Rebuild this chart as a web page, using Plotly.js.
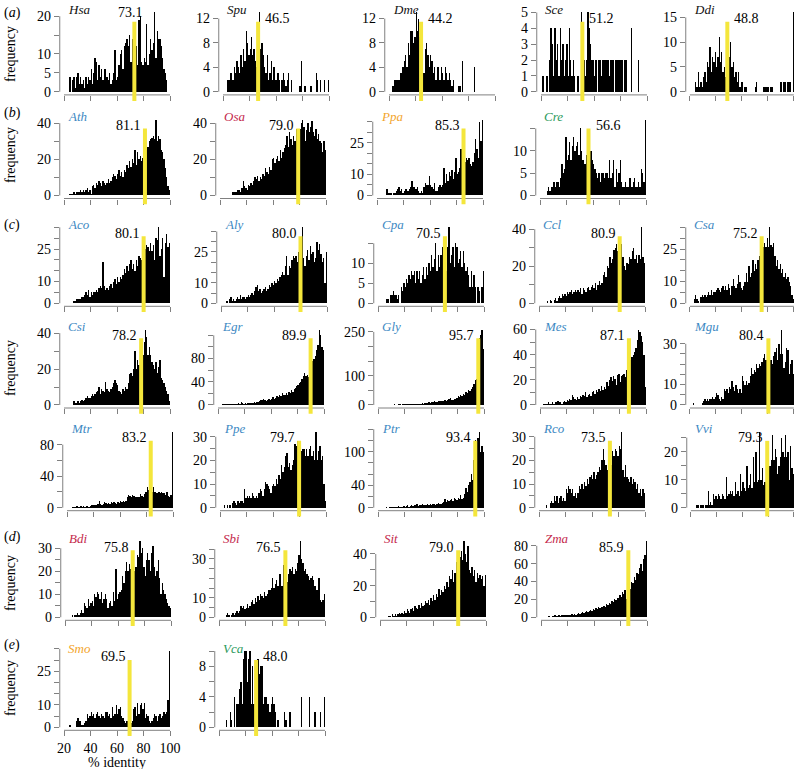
<!DOCTYPE html>
<html>
<head>
<meta charset="utf-8">
<script src="https://cdn.plot.ly/plotly-3.0.1.min.js"></script>
<style>body{margin:0;background:#fff}#chart{width:798px;height:769px}</style>
</head>
<body>
<div id="chart"></div>
<script>
// counts per 1% identity bin: 20-21, 21-22 ... 99-100 (ten bins per group)
var hsa = [0,0,0,0,4,0,3,4,1,4, 5,2,4,2,3,1,4,2,4,3, 6,2,5,9,8,3,7,4,6,3, 6,6,4,3,5,2,3,5,11,3,
           4,7,10,11,6,12,13,14,12,15, 8,14,10,9,12,7,19,20,8,7, 9,8,18,7,10,14,11,13,21,9, 16,14,14,12,9,6,5,3,0,0];
var spu = [0,0,0,2,2,3,3,2,4,3, 5,4,3,6,4,7,5,10,8,6, 7,9,6,7,5,4,3,13,7,8, 6,4,3,6,2,3,5,2,4,2,
           2,3,2,0,2,3,2,1,2,3, 0,2,0,0,0,0,0,1,1,5, 0,1,1,0,0,0,1,0,0,0, 3,2,0,2,0,0,2,0,0,2];
var dme = [0,0,1,1,2,2,2,2,3,3, 4,5,6,4,8,6,10,10,8,9, 13,10,12,9,10,6,3,7,8,6, 4,6,5,3,4,2,4,4,2,4,
           3,2,4,3,2,3,2,1,2,0, 0,0,1,1,0,5,0,0,0,0, 0,0,0,0,4,0,0,0,0,0, 0,0,0,0,0,0,0,0,0,0];
var sce = [0,1,0,0,1,0,2,4,3,1, 4,2,3,1,4,2,3,1,2,3, 1,4,2,1,2,1,0,1,1,0, 5,4,2,1,2,5,4,3,2,2,
           1,2,0,2,2,1,2,2,2,2, 2,1,2,2,2,0,2,2,2,2, 2,2,0,2,2,0,0,0,4,0, 0,0,0,2,0,0,0,0,0,0];
var ddi = [0,0,0,0,2,1,4,1,2,1, 3,4,2,6,5,9,4,7,6,8, 5,7,11,6,8,4,5,3,6,4, 7,10,5,6,3,4,2,4,1,2,
           2,0,1,1,0,0,0,0,0,0, 1,2,0,0,0,0,1,1,1,1, 1,0,1,1,0,0,0,0,0,2, 2,0,2,2,0,2,2,2,0,16];
var ath = [0,0,0,0,1,1,1,2,1,2, 2,2,3,2,3,2,3,4,2,3, 1,5,6,4,7,6,8,7,5,8, 7,6,7,9,7,8,10,12,11,9,
           12,14,11,13,10,14,13,17,15,19, 16,20,18,25,17,24,20,22,19,21, 37,33,25,27,30,31,32,33,31,42, 30,33,31,25,24,20,15,10,5,3];
var osa = [0,0,0,0,0,0,0,0,0,2, 2,2,2,3,3,2,4,8,5,4, 3,6,5,7,6,8,10,9,11,8, 10,9,12,11,15,13,12,16,14,20,
           21,18,20,22,19,25,21,24,26,28, 33,27,35,31,28,33,30,37,34,36, 37,40,42,38,30,36,40,35,38,41, 35,33,37,31,34,30,29,24,30,25];
var ppa = [0,0,0,0,0,0,0,3,1,1, 1,0,1,1,2,3,4,2,3,1, 2,3,3,2,3,4,7,4,4,3, 4,2,1,2,1,4,6,5,5,9,
           5,4,3,6,2,2,4,5,4,5, 13,6,10,7,11,9,12,8,11,18, 10,11,13,22,12,18,16,18,17,18, 15,14,16,20,27,22,18,35,26,36];
var cre = [0,0,0,0,0,1,2,1,2,2, 3,2,3,3,2,4,7,5,6,13, 8,9,12,8,11,13,10,11,12,9, 15,10,8,7,7,9,7,13,10,8,
           7,6,5,4,5,3,5,5,4,5, 5,4,8,4,5,8,2,6,3,5, 8,3,2,2,3,2,2,4,4,2, 3,4,2,2,3,2,6,5,3,17];
var aco = [0,0,0,0,0,0,0,1,1,2, 2,2,2,3,3,4,5,4,6,3, 5,4,5,5,6,5,7,8,7,19, 8,6,7,6,8,9,7,10,11,9,
           12,10,12,11,13,16,14,17,15,18, 20,16,18,15,20,17,22,21,20,24, 30,25,27,26,24,28,24,27,20,30, 29,35,22,25,30,12,28,32,26,28];
var aly = [0,0,0,0,1,0,2,3,1,2, 1,2,3,2,4,2,3,3,2,3, 4,3,4,5,4,6,8,9,6,7, 5,6,7,8,6,7,9,8,10,9,
           11,10,12,11,13,14,15,14,18,23, 14,18,17,21,23,22,23,20,25,24, 30,37,22,18,23,26,21,28,24,25, 20,22,30,26,29,24,20,22,10,25];
var cpa = [0,0,0,0,0,0,1,1,0,2, 2,3,2,2,1,2,0,4,3,5, 4,6,5,7,6,8,7,8,5,8, 6,8,5,7,9,6,9,7,10,8,
           12,9,11,15,8,12,9,12,14,11, 12,8,14,19,10,12,14,9,15,14, 10,11,13,9,13,10,8,9,7,4, 8,4,7,4,0,4,3,0,4,8];
var ccl = [0,0,0,0,0,0,1,0,2,1, 0,2,3,1,3,4,3,5,4,5, 4,6,5,6,7,5,6,7,6,7, 6,8,5,8,7,6,8,9,7,9,
           10,8,11,7,10,12,10,11,15,17, 14,20,19,25,22,24,29,30,32,28, 35,30,32,25,20,18,22,21,25,24, 28,30,24,26,22,26,24,41,25,22];
var csa = [0,0,0,2,4,2,1,0,3,4, 3,4,3,4,5,4,6,4,5,5, 6,7,6,5,7,8,6,8,6,9, 7,4,8,11,8,7,9,13,10,7,
           6,8,10,14,10,17,12,14,20,15, 18,16,20,22,24,21,26,28,26,30, 26,35,27,26,28,22,17,20,16,18, 14,16,12,14,11,12,10,8,4,2];
var csi = [0,0,0,0,0,0,0,2,1,1, 2,1,2,3,2,3,4,5,4,4, 5,6,5,6,7,8,10,6,9,8, 7,13,9,8,7,9,10,12,14,12,
           11,8,7,6,9,8,10,9,12,17, 18,16,20,30,20,25,22,24,35,28, 35,42,38,28,32,28,24,22,20,24, 18,21,25,15,14,12,10,8,6,2];
var egr = [0,0,0,1,1,1,2,1,1,2, 2,1,2,2,2,3,2,5,3,2, 3,2,3,3,4,3,4,5,4,5, 6,7,9,8,10,9,7,8,10,9,
           11,13,10,12,15,13,17,16,20,18, 18,20,17,22,20,25,22,28,30,32, 34,38,40,45,50,55,50,52,48,58, 70,75,80,85,95,104,130,120,100,95];
var gly = [0,0,0,0,0,0,0,1,1,1, 1,1,2,1,1,2,2,1,2,2, 3,2,3,3,2,4,3,4,3,5, 4,4,5,6,5,6,8,7,9,8,
           10,9,12,10,11,13,12,14,13,12, 17,15,16,20,25,18,16,22,20,24, 30,28,33,30,38,35,45,42,50,48, 55,60,72,85,90,120,230,240,258,190];
var mes = [0,0,1,1,1,1,2,1,1,2, 1,2,2,3,2,2,1,2,3,2, 4,3,5,4,8,6,5,4,6,5, 7,6,8,7,10,6,8,9,7,10,
           11,9,12,10,13,11,15,12,14,13, 18,15,20,22,19,23,21,16,24,25, 18,23,24,25,22,28,30,34,36,38, 40,42,45,52,60,58,55,50,40,14];
var mgu = [0,0,1,0,0,0,0,0,0,1, 2,3,2,3,2,3,3,4,3,4, 6,5,3,2,4,3,8,7,8,6, 9,8,12,9,7,10,8,6,8,6,
           14,12,10,12,10,11,14,18,15,17, 16,20,18,20,19,21,23,25,22,24, 21,23,22,20,24,26,28,22,30,25, 37,25,18,21,28,27,15,20,22,15];
var mtr = [0,0,0,0,1,1,1,2,1,1, 2,1,2,1,2,2,1,2,3,3, 4,3,4,5,8,5,4,5,7,6, 5,6,5,7,6,7,6,5,7,6,
           8,7,8,7,8,14,16,15,14,16, 15,13,14,13,14,17,15,14,17,20, 26,22,18,14,20,26,20,19,18,20, 18,20,19,18,16,20,15,14,16,96];
var ppe = [0,0,0,1,0,1,0,1,0,2, 3,2,1,3,2,3,3,2,8,4, 5,4,5,4,6,5,4,5,4,6, 8,7,5,8,11,10,9,8,6,9,
           10,9,12,10,14,12,18,15,17,22, 23,17,19,16,18,20,27,26,28,20, 18,24,25,25,22,25,22,25,26,22, 24,20,32,20,24,26,20,22,10,3];
var ptr = [0,0,0,0,0,0,1,0,1,1, 2,1,1,2,1,3,2,1,2,3, 2,3,4,2,3,4,3,5,4,6, 3,4,5,6,4,5,4,6,5,7,
           5,6,7,5,6,8,7,6,9,10, 15,10,14,12,13,15,12,18,16,14, 17,16,22,15,18,25,35,28,40,45, 60,50,85,120,108,125,135,100,110,100];
var rco = [0,0,0,0,0,1,0,0,2,3, 2,5,3,5,2,4,5,3,4,3, 8,6,9,8,6,8,5,6,4,6, 9,8,10,8,11,9,12,10,13,14,
           12,15,12,14,15,17,16,20,25,20, 18,16,14,17,18,24,22,25,24,22, 26,25,32,16,13,18,13,12,11,13, 10,12,11,8,10,6,8,5,8,6];
var vvi = [0,0,0,0,1,1,0,1,1,1, 0,1,1,6,1,2,1,5,3,4, 3,5,4,3,5,4,3,11,4,5, 6,5,6,4,9,5,6,4,12,6,
           9,7,6,15,7,8,12,7,18,9, 20,9,10,27,10,14,8,9,12,9, 17,15,17,26,17,21,18,12,15,18, 25,20,18,26,18,20,10,22,14,12];
var bdi = [0,0,0,0,0,1,0,1,1,2, 1,2,3,2,6,5,4,8,5,6, 7,5,10,9,11,10,8,11,6,8, 10,8,4,6,7,5,11,7,21,8,
           10,11,12,18,15,20,24,20,23,21, 28,22,20,22,27,26,33,28,30,22, 18,25,28,25,20,28,31,22,18,20, 25,17,10,15,12,10,8,6,5,4];
var sbi = [0,0,0,0,0,1,2,1,0,1, 2,1,2,3,2,3,6,5,6,4, 5,7,5,6,8,9,7,10,8,11, 9,12,11,10,13,11,12,14,14,15,
           20,15,17,19,16,22,22,16,27,13, 20,18,22,25,24,26,22,25,24,28, 32,39,30,28,24,25,22,21,19,20, 21,19,16,14,14,20,9,8,9,12];
var sit = [0,0,0,0,0,0,1,1,0,2, 1,2,1,2,3,2,3,2,4,3, 5,4,3,5,6,4,7,6,5,8, 6,9,7,8,10,9,11,8,12,10,
           14,11,15,13,18,14,17,16,20,18, 22,19,26,24,30,22,28,35,30,26, 38,42,36,48,40,35,45,30,28,32, 26,30,22,28,25,27,24,26,20,27];
var zma = [0,0,0,0,0,1,1,0,1,1, 2,1,1,2,1,2,2,3,2,3, 2,3,3,4,3,4,3,4,5,4, 5,6,5,6,7,6,7,8,7,9,
           8,10,9,11,10,12,11,13,12,15, 14,16,15,18,17,20,19,22,21,25, 23,28,26,30,20,18,35,32,40,38, 45,42,50,48,55,60,52,65,70,85];
var smo = [0,0,0,0,1,0,0,0,0,3, 4,3,3,1,1,2,3,6,4,5, 7,5,6,4,6,7,5,4,6,5, 4,7,7,5,6,4,9,5,6,10,
           6,8,9,5,4,3,2,3,1,4, 2,3,8,9,5,11,6,10,11,8, 11,4,6,5,3,2,3,4,6,5, 3,5,6,4,5,7,6,7,12,34];
var vca = [0,0,0,0,0,1,0,0,2,1, 0,4,0,3,3,5,6,3,9,10, 10,6,9,10,3,8,3,8,7,9, 7,8,8,3,4,4,3,3,2,3,
           4,3,2,0,1,0,0,0,0,2, 1,0,0,2,0,0,0,0,0,0, 0,0,4,0,0,0,0,0,4,0, 0,0,2,0,0,0,2,0,0,4];

var species = ['Hsa','Spu','Dme','Sce','Ddi', 'Ath','Osa','Ppa','Cre',
               'Aco','Aly','Cpa','Ccl','Csa', 'Csi','Egr','Gly','Mes','Mgu',
               'Mtr','Ppe','Ptr','Rco','Vvi', 'Bdi','Sbi','Sit','Zma', 'Smo','Vca'];
var counts = [hsa,spu,dme,sce,ddi, ath,osa,ppa,cre, aco,aly,cpa,ccl,csa, csi,egr,gly,mes,mgu,
              mtr,ppe,ptr,rco,vvi, bdi,sbi,sit,zma, smo,vca];
var meanText = ['73.1','46.5','44.2','51.2','48.8', '81.1','79.0','85.3','56.6',
                '80.1','80.0','70.5','80.9','75.2', '78.2','89.9','95.7','87.1','80.4',
                '83.2','79.7','93.4','73.5','79.3', '75.8','76.5','79.0','85.9', '69.5','48.0'];
// where the yellow bar sits on the picture
var lineAt = [73.1,46.5,44.2,51.2,48.8, 81.1,79.0,85.3,56.6,
              80.1,80.0,70.5,80.9,75.2, 78.2,89.9,95.7,87.1,80.4,
              83.2,79.7,93.4,73.5,79.3, 71.1,70.1,79.0,85.9, 69.5,48.0];
var labelSide = ['c','r','r','r','r', 'l','l','l','r', 'l','l','l','l','l', 'l','l','l','l','l',
                 'l','l','l','l','l', 'l','l','l','l', 'l','r'];
var blue = '#3d89c3', red = '#c4294c', orange = '#f3a52c', green = '#2b9a5c';
var nameColour = ['#111','#111','#111','#111','#111', blue,red,orange,green,
                  blue,blue,blue,blue,blue, blue,blue,blue,blue,blue,
                  blue,blue,blue,blue,blue, red,red,red,red, orange,green];
var yStep = [5,4,4,1,5, 10,10,5,5, 5,5,5,10,5, 10,20,50,10,5, 20,5,20,5,5, 5,5,10,20, 5,2];
var yTop  = [20,12,12,5,15, 40,40,35,15, 35,35,15,40,35, 40,120,250,60,30, 80,30,140,30,25, 30,35,40,80, 35,10];
var yShown = [[0,5,10,20],[0,4,8,12],[0,4,8,12],[0,1,2,3,4,5],[0,5,10,15],
              [0,20,40],[0,20,40],[0,10,25],[0,5,10],
              [0,10,25],[0,10,25],[0,5,10],[0,20,40],[0,10,25],
              [0,20,40],[0,40,80],[0,100,250],[0,20,40,60],[0,10,30],
              [0,40,80],[0,10,20,30],[0,40,100],[0,10,20,30],[0,10,20],
              [0,10,20,30],[0,10,30],[0,20,40],[0,20,40,60,80],
              [0,10,25],[0,4,8]];
var xTicks = [20,40,60,80,100];

// page geometry (pixels)
var W = 798, H = 769;
var panelRow = [0,0,0,0,0, 1,1,1,1, 2,2,2,2,2, 3,3,3,3,3, 4,4,4,4,4, 5,5,5,5, 6,6];
var panelX20 = [64,223,389,541,690, 64,220,377,540, 64,221,378,539,690,
                64,218,378,540,690, 67,220,378,539,691, 65,219,380,541, 64,219];
var span80 = 106;
var rowTop    = [9.3, 116.5, 224.3, 326.5, 429, 538.3, 648];
var rowBottom = [94.9, 198.5, 306.3, 408, 510.7, 620.3, 730.3];

var serif = 'Liberation Serif';   // a single family: a list is not applied here
var axisGrey = '#808080';
var yellow = '#f4e63c';

var bins = [];
for (var b = 20; b < 100; b++) bins.push(b + 0.5);

var data = [];
var layout = {
    width: W, height: H,
    margin: {t: 0, b: 0, l: 0, r: 0},
    paper_bgcolor: 'white', plot_bgcolor: 'white',
    showlegend: false,
    bargap: 0,
    font: {family: serif, size: 13, color: 'black'},
    shapes: [],
    annotations: []
};

for (var i = 0; i < species.length; i++) {
    var n = i + 1;
    var xa = 'x' + (n > 1 ? n : '');
    var ya = 'y' + (n > 1 ? n : '');
    var vals = counts[i];
    var m = Math.max.apply(null, vals);
    var r = panelRow[i];
    var px0 = panelX20[i] - span80 * 0.04;
    var px1 = panelX20[i] + span80 * 1.04;

    data.push({
        type: 'bar', x: bins, y: vals, xaxis: xa, yaxis: ya,
        marker: {color: 'black', line: {width: 0}},
        hoverinfo: 'none'
    });

    var tv = [], tt = [];
    for (var t = 0; t <= yTop[i] + 1e-9; t += yStep[i]) {
        tv.push(t);
        tt.push(yShown[i].indexOf(t) >= 0 ? String(t) : '');
    }

    layout['xaxis' + (n > 1 ? n : '')] = {
        domain: [px0 / W, px1 / W],
        range: [16.8, 103.2],
        anchor: ya,
        tickmode: 'array', tickvals: xTicks,
        ticks: 'outside', ticklen: 5, tickcolor: axisGrey, tickwidth: 1,
        showticklabels: species[i] === 'Smo',
        tickfont: {family: serif, size: 14, color: 'black'},
        showgrid: false, zeroline: false, showline: false, fixedrange: true
    };
    layout['yaxis' + (n > 1 ? n : '')] = {
        domain: [1 - rowBottom[r] / H, 1 - rowTop[r] / H],
        range: [-0.04 * m, 1.04 * m],
        anchor: xa,
        tickmode: 'array', tickvals: tv, ticktext: tt,
        ticks: 'outside', ticklen: 5, tickcolor: axisGrey, tickwidth: 1,
        tickfont: {family: serif, size: 14, color: 'black'},
        showgrid: false, zeroline: false, showline: false, fixedrange: true
    };

    // detached R-style axis lines, first to last tick
    layout.shapes.push({type: 'line', xref: xa, yref: ya + ' domain', x0: 20, x1: 100, y0: 0, y1: 0,
                        line: {color: axisGrey, width: 1}});
    layout.shapes.push({type: 'line', xref: xa + ' domain', yref: ya, x0: 0, x1: 0, y0: 0, y1: yTop[i],
                        line: {color: axisGrey, width: 1}});
    // mean marker
    layout.shapes.push({type: 'line', xref: xa, yref: ya + ' domain', x0: lineAt[i], x1: lineAt[i],
                        y0: -0.07, y1: 0.855, line: {color: yellow, width: 4}});

    var side = labelSide[i];
    layout.annotations.push({
        xref: xa, yref: ya + ' domain', x: lineAt[i], y: 0.855,
        yshift: side === 'c' ? 9 : 3,
        xanchor: side === 'l' ? 'right' : (side === 'r' ? 'left' : 'center'),
        xshift: side === 'l' ? -2 : (side === 'r' ? 5 : -4),
        yanchor: 'middle', showarrow: false, text: meanText[i],
        font: {family: serif, size: 14, color: 'black'}
    });
    layout.annotations.push({
        xref: xa + ' domain', yref: ya + ' domain', x: 0, y: 1, xshift: 6,
        xanchor: 'left', yanchor: 'middle', showarrow: false,
        text: '<i>' + species[i] + '</i>',
        font: {family: serif, size: 13, color: nameColour[i]}
    });
}

// row letters and the y titles
var letters = ['a','b','c','d','e'];
var letterY = [13, 113, 225, 537, 645];
for (var k = 0; k < letters.length; k++) {
    layout.annotations.push({xref: 'paper', yref: 'paper', x: 2 / W, y: 1 - letterY[k] / H,
        xanchor: 'left', yanchor: 'middle', showarrow: false,
        text: '(<i>' + letters[k] + '</i>)', font: {family: serif, size: 14, color: 'black'}});
}
var freqY = [54, 155, 368, 583, 688];
for (var k = 0; k < freqY.length; k++) {
    layout.annotations.push({xref: 'paper', yref: 'paper', x: 10 / W, y: 1 - freqY[k] / H,
        xanchor: 'center', yanchor: 'middle', showarrow: false, textangle: -90,
        text: 'frequency', font: {family: serif, size: 14, color: 'black'}});
}
layout.annotations.push({xref: 'paper', yref: 'paper', x: 117 / W, y: 1 - 762 / H,
    xanchor: 'center', yanchor: 'middle', showarrow: false,
    text: '% identity', font: {family: serif, size: 14, color: 'black'}});

Plotly.newPlot('chart', data, layout, {displayModeBar: false, staticPlot: true});
</script>
</body>
</html>
